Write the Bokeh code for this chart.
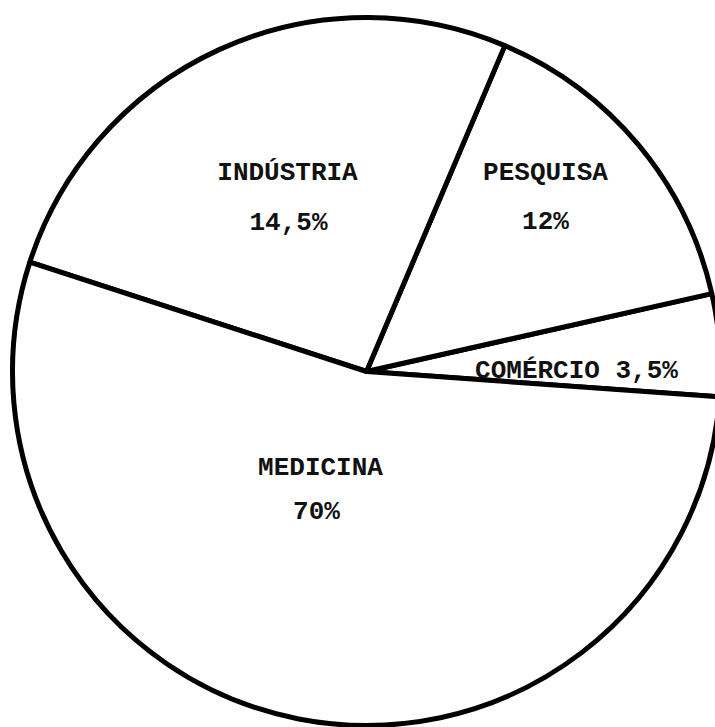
import math
from bokeh.plotting import figure
from bokeh.models import Range1d, ColumnDataSource
from bokeh.core.properties import value
from bokeh.embed import file_html
from bokeh.resources import INLINE

# ---- data ----
categories = ["COMÉRCIO", "PESQUISA", "INDÚSTRIA", "MEDICINA"]
printed_pct = ["3,5%", "12%", "14,5%", "70%"]
# angular size of each slice as actually drawn in the scanned chart (degrees)
drawn_degrees = [16.8, 54.3, 95.0, 193.9]
first_edge_deg = -4.1  # lower edge of the COMÉRCIO slice

# ---- layout ----
W, H = 715, 727
cx, cy, R = 366, H - 371, 354

starts, ends = [], []
a = first_edge_deg
for d in drawn_degrees:
    starts.append(math.radians(a))
    a += d
    ends.append(math.radians(a))

p = figure(width=W, height=H, x_range=Range1d(0, W), y_range=Range1d(0, H),
           x_axis_type=None, y_axis_type=None, toolbar_location=None,
           output_backend="svg", min_border=0)
p.grid.visible = False
p.outline_line_color = None
p.background_fill_color = "white"
p.border_fill_color = "white"

src = ColumnDataSource(dict(x=[cx] * 4, y=[cy] * 4, start=starts, end=ends,
                            cat=categories))
p.wedge(x="x", y="y", radius=R, start_angle="start", end_angle="end",
        source=src, fill_color="white", line_color="black", line_width=5)

font = value("Liberation Mono")
# label layout (pixel positions, from top-left)
name_pos = {"INDÚSTRIA": (287, 172), "PESQUISA": (545, 172), "MEDICINA": (320, 467)}
pct_pos = {"INDÚSTRIA": (288, 222), "PESQUISA": (545, 221), "MEDICINA": (316, 511)}

tx, ty, tt = [], [], []
for c, pc in zip(categories, printed_pct):
    if c == "COMÉRCIO":
        tx.append(576); ty.append(H - 370); tt.append(f"{c} {pc}")
    else:
        nx, ny = name_pos[c]
        px, py = pct_pos[c]
        tx += [nx, px]; ty += [H - ny, H - py]; tt += [c, pc]

p.text(x=tx, y=ty, text=tt, text_font=font, text_font_size="26px",
       text_font_style="bold", text_align="center", text_baseline="middle",
       text_color="#111111")

open("out.html", "w").write(file_html(p, INLINE))
